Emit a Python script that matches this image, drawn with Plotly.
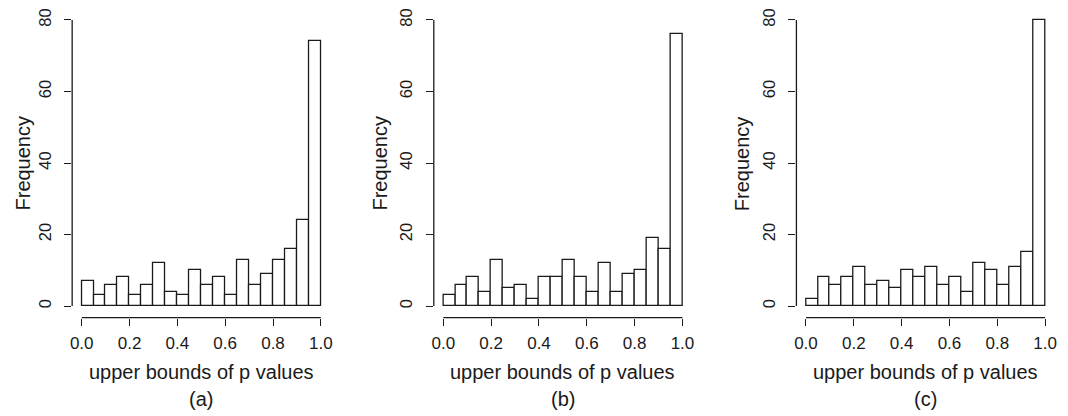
import numpy as np
import plotly.graph_objects as go

# ---- data ----
bin_width = 0.05
bin_centers = list(np.round(np.arange(0.025, 1.0, bin_width), 3))
counts_a = [7, 3, 6, 8, 3, 6, 12, 4, 3, 10, 6, 8, 3, 13, 6, 9, 13, 16, 24, 74]
counts_b = [3, 6, 8, 4, 13, 5, 6, 2, 8, 8, 13, 8, 4, 12, 4, 9, 10, 19, 16, 76]
counts_c = [2, 8, 6, 8, 11, 6, 7, 5, 10, 8, 11, 6, 8, 4, 12, 10, 6, 11, 15, 80]
panel_labels = ["(a)", "(b)", "(c)"]
x_ticks = [0.0, 0.2, 0.4, 0.6, 0.8, 1.0]
x_ticktext = ["0.0", "0.2", "0.4", "0.6", "0.8", "1.0"]
y_ticks = [0, 20, 40, 60, 80]
x_title = "upper bounds of p values"
y_title = "Frequency"

# page body has an 8px margin; size the figure to fit the window
OFF = 8
W, H = 1068 - OFF, 416 - OFF
FONT = "Liberation Sans, Arial, Helvetica, sans-serif"
INK = "#1a1a1a"

def px_x(v):
    return (v - OFF) / W

def px_y(v):
    return 1 - (v - OFF) / H

# pixel layout in window coordinates
regions = [(70.4, 329.6), (433.4, 692.6), (797.4, 1056.6)]
y0_px, y80_px = 305.0, 16.0            # where 0 and 80 sit
bot_px = 316.6
ppu = (y0_px - y80_px) / 80.0           # pixels per count
y_lo = -(bot_px - y0_px) / ppu
y_hi = (y0_px - OFF) / ppu              # value at the top edge of the figure
ydom = [px_y(bot_px), 1.0]

fig = go.Figure()
shapes = []
annotations = []
for i, (counts, lab, (l, r)) in enumerate(zip([counts_a, counts_b, counts_c], panel_labels, regions)):
    n = "" if i == 0 else str(i + 1)
    xa, ya = "x" + n, "y" + n
    fig.add_trace(go.Bar(
        x=bin_centers, y=counts, width=bin_width,
        marker=dict(color="white", line=dict(color=INK, width=1.3)),
        xaxis=xa, yaxis=ya, showlegend=False, hoverinfo="x+y",
        cliponaxis=False,
    ))
    fig.layout["xaxis" + n] = dict(
        domain=[px_x(l), px_x(r)], range=[-0.04, 1.04], anchor=ya,
        showgrid=False, zeroline=False, showline=False,
        tickvals=x_ticks, ticktext=x_ticktext, ticks="outside", ticklen=7,
        tickwidth=1.3, tickcolor=INK, ticklabelstandoff=3,
        tickfont=dict(family=FONT, size=17, color=INK),
    )
    fig.layout["yaxis" + n] = dict(
        domain=ydom, range=[y_lo, y_hi], anchor=xa,
        showgrid=False, zeroline=False, showline=False,
        tickvals=y_ticks, ticks="outside", ticklen=7,
        tickwidth=1.3, tickcolor=INK, tickangle=-90, ticklabelstandoff=7,
        ticklabeloverflow="allow",
        tickfont=dict(family=FONT, size=16.5, color=INK),
    )
    # R-style axis lines spanning first to last tick
    shapes.append(dict(type="line", xref=xa, yref=ya + " domain",
                       x0=x_ticks[0], x1=x_ticks[-1], y0=0, y1=0,
                       line=dict(color=INK, width=1.3)))
    shapes.append(dict(type="line", xref=xa + " domain", yref=ya,
                       x0=0, x1=0, y0=y_ticks[0], y1=y_ticks[-1],
                       line=dict(color=INK, width=1.3)))
    cx = px_x((l + r) / 2)
    annotations.append(dict(text=x_title, x=cx, y=px_y(372), xref="paper", yref="paper",
                            showarrow=False, xanchor="center", yanchor="middle",
                            font=dict(family=FONT, size=20, color=INK)))
    annotations.append(dict(text=lab, x=cx, y=px_y(399), xref="paper", yref="paper",
                            showarrow=False, xanchor="center", yanchor="middle",
                            font=dict(family=FONT, size=20, color=INK)))
    annotations.append(dict(text=y_title, x=max(0.0, px_x(l - 67)), y=px_y(161), xref="paper", yref="paper",
                            showarrow=False, xanchor="left", yanchor="middle", textangle=-90,
                            borderpad=0,
                            font=dict(family=FONT, size=20, color=INK)))

fig.update_layout(
    width=W, height=H, margin=dict(l=0, r=0, t=0, b=0),
    paper_bgcolor="white", plot_bgcolor="white",
    shapes=shapes, annotations=annotations, bargap=0,
)
fig.write_html("out.html")
